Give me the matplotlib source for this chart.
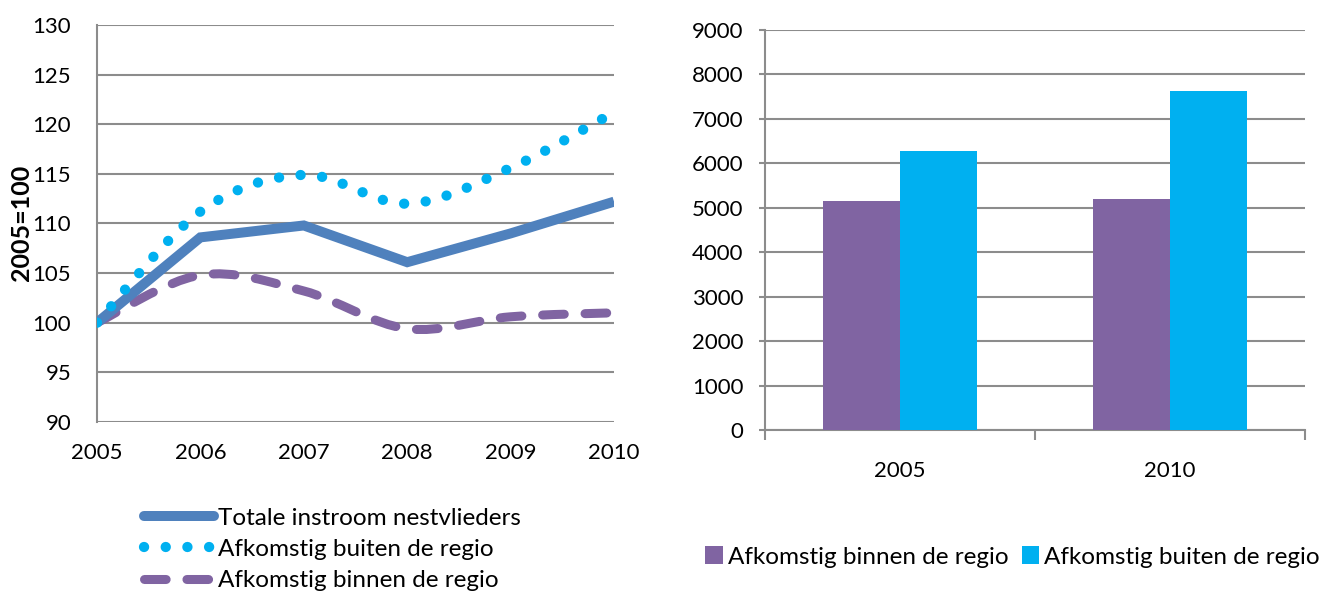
import numpy as np
import matplotlib
matplotlib.use("Agg")
import matplotlib.pyplot as plt
from matplotlib.path import Path
from matplotlib.patches import PathPatch, Patch
from matplotlib.lines import Line2D

plt.rcParams['font.family'] = ['Lato', 'DejaVu Sans']

# ---------------- data ----------------
years = [2005, 2006, 2007, 2008, 2009, 2010]
totale = [100.0, 108.6, 109.8, 106.1, 109.0, 112.2]
buiten_idx = [100.0, 111.2, 114.9, 112.0, 115.6, 121.2]
binnen_idx = [100.0, 104.8, 103.2, 99.4, 100.6, 101.0]

bar_years = ['2005', '2010']
bar_binnen = [5160, 5205]
bar_buiten = [6285, 7625]

lbl_totale = 'Totale instroom nestvlieders'
lbl_buiten = 'Afkomstig buiten de regio'
lbl_binnen = 'Afkomstig binnen de regio'

C_TOT = '#4F81BD'
C_BUI = '#00B0F0'
C_BIN = '#8064A2'
GRID = '#8C8C8C'
FS = 16
FSL = 17.5

LW_TOT = 7.2
LW_DOT = 7.4
LW_DASH = 6.5
DOTS = (0, (0.01, 2.1))
DASH = (0, (2.4, 2.3))

fig = plt.figure(figsize=(13.41, 5.99), dpi=100)


def smooth_path(x, y):
    """Bezier path (Catmull-Rom style, as in spreadsheet smoothed lines)."""
    P = np.column_stack([x, y]).astype(float)
    n = len(P)
    verts = [P[0]]
    codes = [Path.MOVETO]
    for i in range(n - 1):
        p0 = P[i - 1] if i > 0 else P[i]
        p1 = P[i]
        p2 = P[i + 1]
        p3 = P[i + 2] if i + 2 < n else P[i + 1]
        c1 = p1 + (p2 - p0) / 6.0
        c2 = p2 - (p3 - p1) / 6.0
        verts += [c1, c2, p2]
        codes += [Path.CURVE4] * 3
    return Path(np.array(verts), codes)


# ---------------- left: line chart ----------------
ax1 = fig.add_axes([0.0723, 0.2955, 0.3856, 0.6628])
ax1.set_xlim(2005, 2010)
ax1.set_ylim(90, 130)
ax1.set_yticks(np.arange(90, 131, 5))
ax1.set_xticks(years)
ax1.grid(axis='y', color=GRID, linewidth=1.5)
ax1.set_axisbelow(True)
for s in ['top', 'right', 'bottom']:
    ax1.spines[s].set_visible(False)
ax1.spines['left'].set_color(GRID)
ax1.spines['left'].set_linewidth(1.5)
ax1.tick_params(axis='both', length=0, labelsize=FS)
ax1.tick_params(axis='y', pad=18.5)
ax1.tick_params(axis='x', pad=15)

p_bin = PathPatch(smooth_path(years, binnen_idx), facecolor='none', edgecolor=C_BIN,
                  linewidth=LW_DASH, linestyle=DASH, capstyle='round', zorder=3)
ax1.add_patch(p_bin)
ax1.plot(years, totale, color=C_TOT, linewidth=LW_TOT, solid_joinstyle='miter',
         solid_capstyle='butt', zorder=4)
p_bui = PathPatch(smooth_path(years, buiten_idx), facecolor='none', edgecolor=C_BUI,
                  linewidth=LW_DOT, linestyle=DOTS, capstyle='round', zorder=5)
ax1.add_patch(p_bui)

fig.text(0.0157, 0.628, '2005=100', rotation=90, ha='center', va='center',
         fontsize=18, fontweight='bold')

h1 = [Line2D([], [], color=C_TOT, linewidth=LW_TOT, solid_capstyle='round'),
      Line2D([], [], color=C_BUI, linewidth=LW_DOT, linestyle=DOTS,
             dash_capstyle='round'),
      Line2D([], [], color=C_BIN, linewidth=LW_DASH, linestyle=DASH,
             dash_capstyle='round')]
fig.legend(h1, [lbl_totale, lbl_buiten, lbl_binnen], loc='center left',
           bbox_to_anchor=(0.100, 0.083), frameon=False, fontsize=FSL,
           handlelength=2.9, handletextpad=0.15, labelspacing=0.42,
           borderaxespad=0)

# ---------------- right: bar chart ----------------
ax2 = fig.add_axes([0.5705, 0.2821, 0.4027, 0.6678])
x = np.arange(len(bar_years))
w = 0.285
ax2.bar(x - w / 2, bar_binnen, width=w, color=C_BIN, label=lbl_binnen, zorder=3)
ax2.bar(x + w / 2, bar_buiten, width=w, color=C_BUI, label=lbl_buiten, zorder=3)
ax2.set_xlim(-0.5, 1.5)
ax2.set_ylim(0, 9000)
ax2.set_yticks(np.arange(0, 9001, 1000))
ax2.set_xticks(x)
ax2.set_xticklabels(bar_years)
ax2.set_xticks([-0.5, 0.5, 1.5], minor=True)
ax2.grid(axis='y', color=GRID, linewidth=1.5, zorder=0)
ax2.set_axisbelow(True)
for s in ['top', 'right']:
    ax2.spines[s].set_visible(False)
for s in ['left', 'bottom']:
    ax2.spines[s].set_color(GRID)
    ax2.spines[s].set_linewidth(1.5)
ax2.tick_params(axis='y', length=4.5, width=1.5, color=GRID, labelsize=FS, pad=11)
ax2.tick_params(axis='x', which='major', length=0, labelsize=FS, pad=22)
ax2.tick_params(axis='x', which='minor', length=7, width=1.5, color=GRID)

h2 = [Patch(facecolor=C_BIN), Patch(facecolor=C_BUI)]
fig.legend(h2, [lbl_binnen, lbl_buiten], loc='center', ncol=2,
           bbox_to_anchor=(0.755, 0.07), frameon=False, fontsize=FSL,
           handlelength=0.72, handleheight=0.72, handletextpad=0.2,
           columnspacing=0.55, borderaxespad=0)

fig.savefig('out.png', dpi=100)
